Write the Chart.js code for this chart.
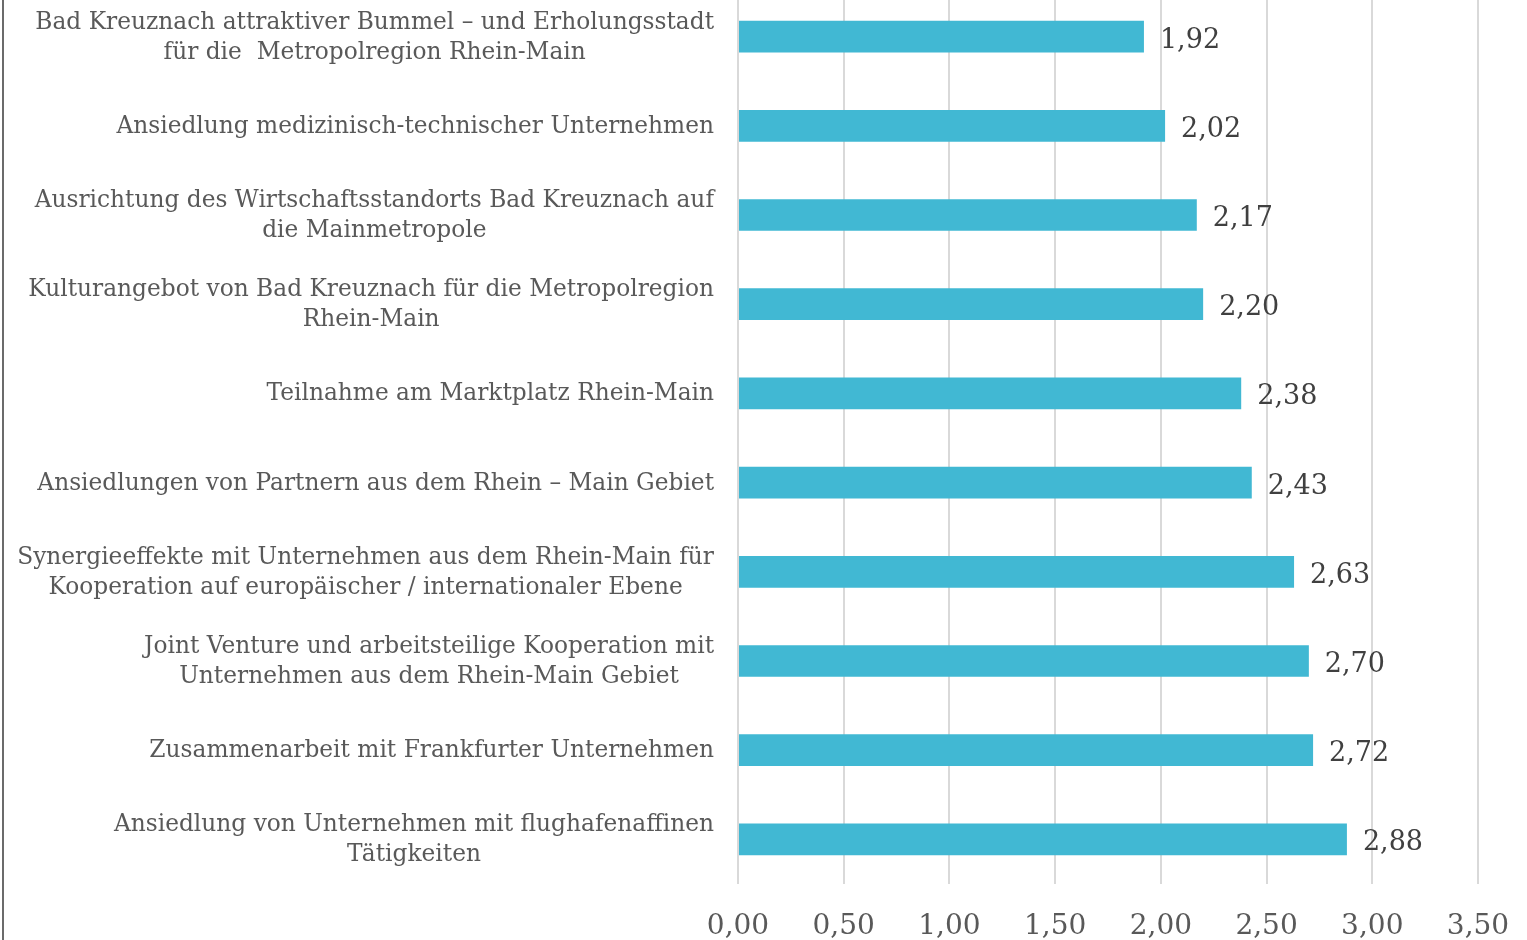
<!DOCTYPE html>
<html lang="de">
<head>
  <meta charset="UTF-8" />
  <title>Rhein-Main Bewertung</title>
  <script src="https://cdn.jsdelivr.net/npm/chart.js"></script>
  <style>
    html, body {
      margin: 0;
      padding: 0;
      background: #fff;
      overflow: hidden;
    }
    .frame {
      position: absolute;
      left: 0; top: 0;
      width: 1527px; height: 940px;
    }
    .frame .edge {
      position: absolute;
      left: 2px; top: 0;
      width: 2px; height: 940px;
      background: #6b6b6b;
    }
    #chartBox {
      position: absolute;
      left: 0; top: -8px;
      width: 1527px; height: 948px;
    }
  </style>
</head>
<body>
  <div class="frame">
    <div class="edge"></div>
    <div id="chartBox"><canvas id="barChart"></canvas></div>
  </div>
  <script>
    const categories = [
      ["Bad Kreuznach attraktiver Bummel \u2013 und Erholungsstadt", "f\u00fcr die  Metropolregion Rhein-Main"],
      ["Ansiedlung medizinisch-technischer Unternehmen"],
      ["Ausrichtung des Wirtschaftsstandorts Bad Kreuznach auf", "die Mainmetropole"],
      ["Kulturangebot von Bad Kreuznach f\u00fcr die Metropolregion", "Rhein-Main"],
      ["Teilnahme am Marktplatz Rhein-Main"],
      ["Ansiedlungen von Partnern aus dem Rhein \u2013 Main Gebiet"],
      ["Synergieeffekte mit Unternehmen aus dem Rhein-Main f\u00fcr", "Kooperation auf europ\u00e4ischer / internationaler Ebene"],
      ["Joint Venture und arbeitsteilige Kooperation mit", "Unternehmen aus dem Rhein-Main Gebiet"],
      ["Zusammenarbeit mit Frankfurter Unternehmen"],
      ["Ansiedlung von Unternehmen mit flughafenaffinen", "T\u00e4tigkeiten"]
    ];
    const scores = [1.92, 2.02, 2.17, 2.20, 2.38, 2.43, 2.63, 2.70, 2.72, 2.88];
    const axisMin = 0;
    const axisMax = 3.5;
    const axisStep = 0.5;

    const serif = "'DejaVu Serif', Georgia, serif";
    const fmt = v => v.toFixed(2).replace('.', ',');

    // category labels: block right-aligned next to the axis, lines centred inside the block
    const sideLabels = {
      id: 'sideLabels',
      afterDraw(chart) {
        const ctx = chart.ctx;
        const y = chart.scales.y;
        const right = chart.chartArea.left - 24;
        const lh = 30;
        ctx.save();
        ctx.font = "23.3px " + serif;
        ctx.fillStyle = '#595959';
        ctx.textAlign = 'center';
        ctx.textBaseline = 'middle';
        categories.forEach((lines, i) => {
          const w = Math.max(...lines.map(l => ctx.measureText(l).width));
          const cx = right - w / 2;
          const cy = y.getPixelForTick(i);
          const top = cy - (lines.length - 1) * lh / 2;
          lines.forEach((l, k) => ctx.fillText(l, cx, top + k * lh + 1));
        });
        ctx.restore();
      }
    };

    const valueLabels = {
      id: 'valueLabels',
      afterDatasetsDraw(chart) {
        const ctx = chart.ctx;
        const meta = chart.getDatasetMeta(0);
        ctx.save();
        ctx.font = "27px " + serif;
        ctx.fillStyle = '#404040';
        ctx.textAlign = 'left';
        ctx.textBaseline = 'middle';
        meta.data.forEach((bar, i) => {
          ctx.fillText(fmt(scores[i]), bar.x + 16, bar.y + 4);
        });
        ctx.restore();
      }
    };

    new Chart(document.getElementById('barChart'), {
      type: 'bar',
      data: {
        labels: categories.map(c => c.join(' ')),
        datasets: [{
          data: scores,
          backgroundColor: '#41b8d3',
          borderWidth: 0,
          categoryPercentage: 1,
          barPercentage: 0.355
        }]
      },
      options: {
        indexAxis: 'y',
        responsive: true,
        maintainAspectRatio: false,
        animation: false,
        layout: { padding: { left: 738, right: 49, top: 0, bottom: 0 } },
        plugins: {
          legend: { display: false },
          tooltip: { enabled: false }
        },
        scales: {
          x: {
            min: axisMin,
            max: axisMax,
            grid: { color: '#d9d9d9', lineWidth: 2, drawTicks: false },
            border: { display: false },
            ticks: {
              stepSize: axisStep,
              padding: 26,
              minRotation: 0,
              maxRotation: 0,
              color: '#595959',
              font: { family: serif, size: 28 },
              callback: v => fmt(v)
            },
            afterFit: s => {
              s.height = 56;
              s.paddingLeft = 0;
              s.paddingRight = 0;
            }
          },
          y: {
            display: false
          }
        }
      },
      plugins: [sideLabels, valueLabels]
    });
  </script>
</body>
</html>
